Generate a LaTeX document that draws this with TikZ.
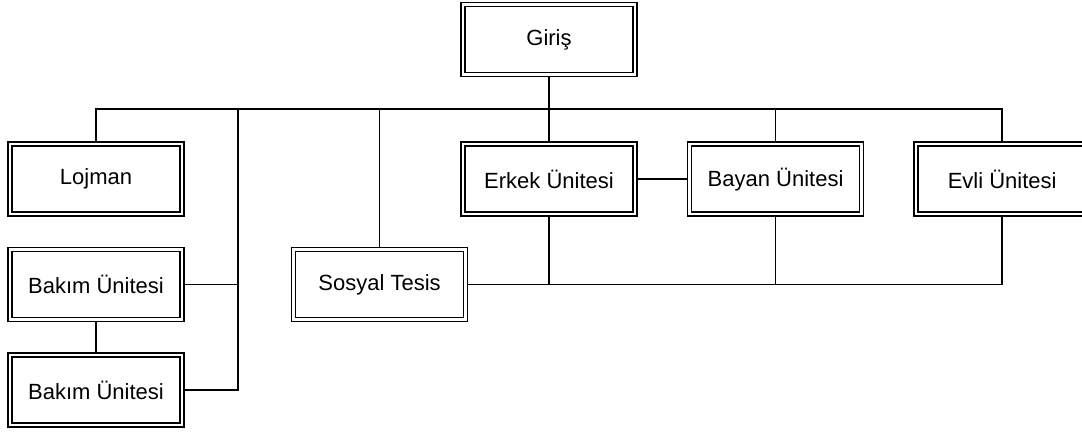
\documentclass[tikz,border=0pt]{standalone}
\usepackage{fontspec}
\setmainfont{Liberation Sans}
\usetikzlibrary{positioning}

\begin{document}
\begin{tikzpicture}[
    x=1pt, y=-1pt,
    font=\fontsize{22}{26}\selectfont,
    unit/.style={draw=black, double=white, double distance=2.4pt, line width=1.6pt, fill=white,
                 minimum width=172pt, minimum height=70pt, outer sep=2.8pt, inner sep=2pt},
    link/.style={line width=1.6pt, black},
]
  \useasboundingbox (0,0) rectangle (1082,435);
  \clip (0,0) rectangle (1082,435);
  %% units
  \node[unit] (giris) at (549,39.5) {Giriş};
  \node[unit, below=64pt of giris] (erkek) {Erkek Ünitesi};
  \node[unit, right=49pt of erkek] (bayan) {Bayan Ünitesi};
  \node[unit, right=49pt of bayan] (evli) {Evli Ünitesi};
  \node[unit] (lojman) at (96,179) {Lojman};
  \node[unit, below=30pt of lojman] (bakim1) {Bakım Ünitesi};
  \node[unit, below=30pt of bakim1] (bakim2) {Bakım Ünitesi};
  \node[unit, right=106pt of bakim1] (sosyal) {Sosyal Tesis};
  %% upper bus
  \coordinate (bus) at (0,109);
  \coordinate (spine) at (238,109);
  \draw[link] (lojman.north) |- (bus -| evli.north) -- (evli.north);
  \draw[link] (giris.south) -- (erkek.north);
  \draw[link] (bayan.north) -- (bayan.north |- bus);
  \draw[link] (sosyal.north) -- (sosyal.north |- bus);
  \draw[link] (spine) |- (bakim2.east);
  \draw[link] (bakim1.east) -- (bakim1.east -| spine);
  \draw[link] (bakim1.south) -- (bakim2.north);
  \draw[link] (erkek.east) -- (bayan.west);
  %% lower bus
  \draw[link] (sosyal.east) -| (evli.south);
  \draw[link] (erkek.south) -- (erkek.south |- sosyal.east);
  \draw[link] (bayan.south) -- (bayan.south |- sosyal.east);
\end{tikzpicture}
\end{document}
